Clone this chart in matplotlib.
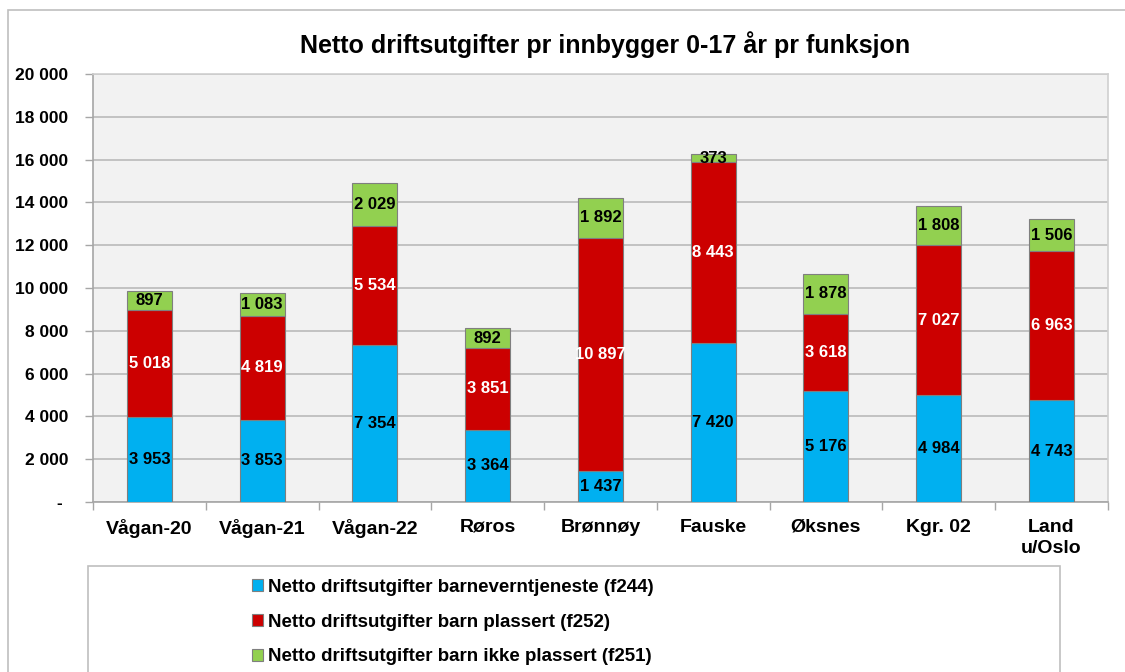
import matplotlib.pyplot as plt
from matplotlib.patches import Rectangle, Patch
from matplotlib.ticker import FuncFormatter, FixedLocator

plt.rcParams['font.family'] = ['Liberation Sans', 'DejaVu Sans']
plt.rcParams['font.weight'] = 'bold'

steder = ["Vågan-20", "Vågan-21", "Vågan-22", "Røros", "Brønnøy",
          "Fauske", "Øksnes", "Kgr. 02", "Land\nu/Oslo"]
f244 = [3953, 3853, 7354, 3364, 1437, 7420, 5176, 4984, 4743]
f252 = [5018, 4819, 5534, 3851, 10897, 8443, 3618, 7027, 6963]
f251 = [897, 1083, 2029, 892, 1892, 373, 1878, 1808, 1506]

serier = [
    ("Netto driftsutgifter barneverntjeneste (f244)", f244, "#00B0F0", "black"),
    ("Netto driftsutgifter barn plassert (f252)", f252, "#CC0000", "white"),
    ("Netto driftsutgifter barn ikke plassert (f251)", f251, "#92D050", "black"),
]

def tall(v):
    return f"{int(v):,}".replace(",", " ")

fig = plt.figure(figsize=(11.25, 6.72), dpi=100)
ax = fig.add_axes([0.0827, 0.253, 0.902, 0.637])
ax.set_facecolor("#F2F2F2")

x = list(range(len(steder)))
bunn = [0] * len(steder)
for navn, verdier, farge, tekstfarge in serier:
    stolper = ax.bar(x, verdier, 0.4, bottom=bunn, color=farge,
                     edgecolor="#7F7F7F", linewidth=0.8, zorder=3)
    for s, v in zip(stolper, verdier):
        ax.text(s.get_x() + s.get_width() / 2, s.get_y() + v / 2, tall(v),
                ha="center", va="center", color=tekstfarge,
                fontsize=12, fontweight="bold", zorder=4)
    bunn = [b + v for b, v in zip(bunn, verdier)]

ax.set_xlim(-0.5, len(steder) - 0.5)
ax.set_ylim(0, 20000)
ax.set_yticks(range(0, 20001, 2000))
ax.yaxis.set_major_formatter(FuncFormatter(lambda v, p: "- " if v == 0 else tall(v)))
ax.grid(axis="y", color="#BFBFBF", linewidth=1.3, zorder=0)

ax.set_xticks(x)
ax.set_xticklabels(steder, fontsize=14, fontweight="bold", linespacing=1.35)
ax.tick_params(axis="x", length=0, pad=12)
ax.xaxis.set_minor_locator(FixedLocator([i - 0.5 for i in range(len(steder) + 1)]))
ax.tick_params(axis="x", which="minor", length=6, color="#A6A6A6", width=1)
ax.tick_params(axis="y", length=6, color="#A6A6A6", width=1, labelsize=12.5, pad=12)
for lbl in ax.get_yticklabels():
    lbl.set_fontweight("bold")

for side in ["top", "right"]:
    ax.spines[side].set_color("#D0D0D0")
    ax.spines[side].set_linewidth(1.2)
for side in ["left", "bottom"]:
    ax.spines[side].set_color("#A6A6A6")
    ax.spines[side].set_linewidth(1.2)

fig.text(0.538, 0.934, "Netto driftsutgifter pr innbygger 0-17 år pr funksjon",
         ha="center", va="center", fontsize=18, fontweight="bold")

# ytre ramme og rammen rundt forklaringen
fig.patches.append(Rectangle((8 / 1125, -0.1), 1.2, 1 - 10 / 672 + 0.1,
                             transform=fig.transFigure, fill=False,
                             edgecolor="#BFBFBF", linewidth=1.2))
fig.patches.append(Rectangle((88 / 1125, -0.1), (1060 - 88) / 1125, 1 - 566 / 672 + 0.1,
                             transform=fig.transFigure, fill=False,
                             edgecolor="#BFBFBF", linewidth=1.2))

handles = [Patch(facecolor=f, edgecolor="#7F7F7F", linewidth=0.8, label=n)
           for n, _, f, _ in serier]
fig.legend(handles=handles, loc="upper left", bbox_to_anchor=(0.217, 0.15),
           frameon=False, handlelength=0.6, handleheight=0.6,
           handletextpad=0.3, labelspacing=0.95, borderaxespad=0,
           prop={"weight": "bold", "size": 13.5})

fig.savefig("out.png", dpi=100)
